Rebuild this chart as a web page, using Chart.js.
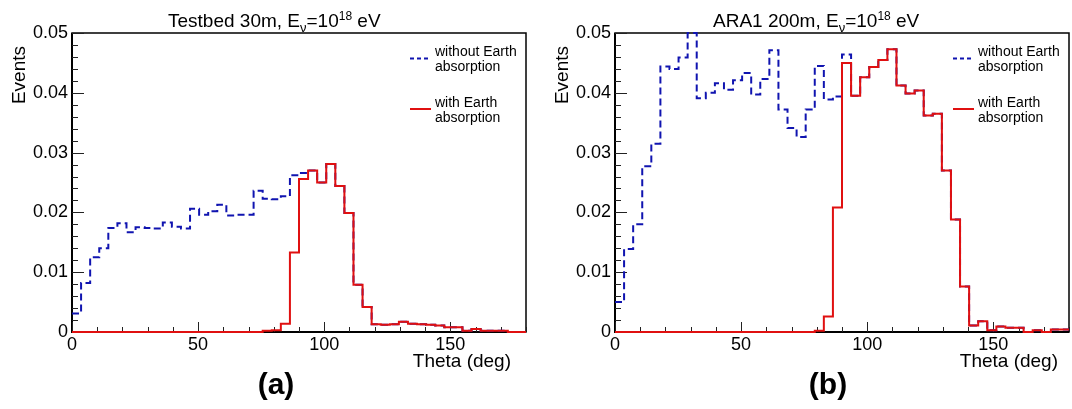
<!DOCTYPE html>
<html>
<head>
<meta charset="utf-8">
<script src="https://cdn.jsdelivr.net/npm/chart.js@4.4.1/dist/chart.umd.min.js"></script>
<style>
  html, body { margin: 0; padding: 0; background: #fff; }
  #wrap { position: relative; width: 1072px; height: 409px; }
  .panel { position: absolute; top: 0; width: 536px; height: 409px; }
</style>
</head>
<body>
<div id="wrap">
  <div class="panel" style="left:0"><canvas id="chartA" width="536" height="409"></canvas></div>
  <div class="panel" style="left:536px"><canvas id="chartB" width="536" height="409"></canvas></div>
</div>
<script>
// histogram: 50 bins of 3.6 deg over 0..180
const binWidth = 3.6;
const nBins = 50;

// (a) Testbed 30m
const testbedNoAbs = [
  0.0031, 0.0082, 0.0125, 0.0140, 0.0174, 0.0182, 0.0167, 0.0175, 0.0174, 0.0173,
  0.0183, 0.0176, 0.0173, 0.0206, 0.0196, 0.0202, 0.0213, 0.0195, 0.0196, 0.0196,
  0.0236, 0.0223, 0.0222, 0.0227, 0.0262, 0.0266, 0.0270, 0.0250, 0.0281, 0.0244,
  0.0199, 0.0079, 0.0042, 0.0013, 0.0012, 0.0013, 0.0017, 0.0014, 0.0013, 0.0012,
  0.0011, 0.0008, 0.0008, 0.0002, 0.0005, 0.0002, 0.0002, 0.0002, 0.0000, 0.0000
];
const testbedAbs = [
  0.0000, 0.0000, 0.0000, 0.0000, 0.0000, 0.0000, 0.0000, 0.0000, 0.0000, 0.0000,
  0.0000, 0.0000, 0.0000, 0.0000, 0.0000, 0.0000, 0.0000, 0.0000, 0.0000, 0.0000,
  0.0000, 0.0002, 0.0003, 0.0014, 0.0133, 0.0256, 0.0270, 0.0250, 0.0281, 0.0244,
  0.0199, 0.0079, 0.0042, 0.0013, 0.0012, 0.0013, 0.0017, 0.0014, 0.0013, 0.0012,
  0.0011, 0.0008, 0.0008, 0.0002, 0.0005, 0.0002, 0.0002, 0.0002, 0.0000, 0.0000
];

// (b) ARA1 200m
const ara1NoAbs = [
  0.0050, 0.0139, 0.0180, 0.0277, 0.0315, 0.0444, 0.0440, 0.0459, 0.0500, 0.0391,
  0.0400, 0.0416, 0.0405, 0.0421, 0.0433, 0.0397, 0.0423, 0.0471, 0.0372, 0.0341,
  0.0326, 0.0372, 0.0445, 0.0389, 0.0394, 0.0464, 0.0395, 0.0426, 0.0443, 0.0455,
  0.0473, 0.0412, 0.0399, 0.0404, 0.0362, 0.0365, 0.0270, 0.0188, 0.0076, 0.0011,
  0.0018, 0.0003, 0.0009, 0.0007, 0.0007, 0.0000, 0.0003, 0.0000, 0.0004, 0.0004
];
const ara1Abs = [
  0.0000, 0.0000, 0.0000, 0.0000, 0.0000, 0.0000, 0.0000, 0.0000, 0.0000, 0.0000,
  0.0000, 0.0000, 0.0000, 0.0000, 0.0000, 0.0000, 0.0000, 0.0000, 0.0000, 0.0000,
  0.0000, 0.0000, 0.0002, 0.0026, 0.0208, 0.0450, 0.0395, 0.0426, 0.0443, 0.0455,
  0.0473, 0.0412, 0.0399, 0.0404, 0.0362, 0.0365, 0.0270, 0.0188, 0.0076, 0.0011,
  0.0018, 0.0003, 0.0009, 0.0007, 0.0007, 0.0000, 0.0003, 0.0000, 0.0004, 0.0004
];

const xTicks = [0, 50, 100, 150];
const yTicks = [0, 0.01, 0.02, 0.03, 0.04, 0.05];
const legendNoAbs = ['without Earth', 'absorption'];
const legendAbs = ['with Earth', 'absorption'];
const titleA = ['Testbed 30m, E', 'ν', '=10', '18', ' eV'];
const titleB = ['ARA1 200m, E', 'ν', '=10', '18', ' eV'];

const FONT = '"Liberation Sans", Arial, Helvetica, sans-serif';
const BLUE = '#1014b0';
const RED = '#e01010';

// lower bin edges plus the last upper edge; stepped 'before' holds each bin value across the bin
function histPoints(values) {
  const pts = values.map((v, i) => ({ x: i * binWidth, y: v }));
  pts.push({ x: nBins * binWidth, y: values[values.length - 1] });
  return pts;
}

const rootStyle = {
  id: 'rootStyle',
  beforeDatasetsDraw(chart) {
    const { ctx, chartArea: a, scales: { x, y } } = chart;
    ctx.save();
    ctx.strokeStyle = '#000';
    ctx.lineWidth = 1.5;
    ctx.strokeRect(a.left, a.top, a.right - a.left, a.bottom - a.top);
    ctx.lineWidth = 2;
    ctx.beginPath();
    ctx.moveTo(a.left, a.top); ctx.lineTo(a.left, a.bottom); ctx.lineTo(a.right, a.bottom);
    ctx.stroke();
    // inward ticks, ROOT style
    ctx.lineWidth = 1;
    ctx.strokeStyle = '#222';
    ctx.beginPath();
    for (let v = 0; v <= 180; v += 10) {
      const px = Math.round(x.getPixelForValue(v)) + 0.5;
      const len = v % 50 === 0 ? 10 : 5;
      ctx.moveTo(px, a.bottom); ctx.lineTo(px, a.bottom - len);
    }
    for (let i = 0; i <= 25; i++) {
      const py = Math.round(y.getPixelForValue(i * 0.002)) + 0.5;
      const len = i % 5 === 0 ? 12 : 6;
      ctx.moveTo(a.left, py); ctx.lineTo(a.left + len, py);
    }
    ctx.stroke();
    ctx.restore();
  },
  afterDraw(chart, args, o) {
    const { ctx } = chart;
    ctx.save();
    ctx.fillStyle = '#000';
    ctx.textBaseline = 'alphabetic';

    // title with subscript nu and superscript 18
    let tx = o.titleX;
    const sizes = [19, 13, 19, 12, 19];
    const dys = [0, 5, 0, -7, 0];
    o.title.forEach((t, i) => {
      ctx.font = sizes[i] + 'px ' + FONT;
      ctx.textAlign = 'left';
      ctx.fillText(t, tx, 27 + dys[i]);
      tx += ctx.measureText(t).width;
    });

    // axis titles
    ctx.font = '19px ' + FONT;
    ctx.save();
    ctx.translate(o.yTitleX, 46);
    ctx.rotate(-Math.PI / 2);
    ctx.textAlign = 'right';
    ctx.fillText('Events', 0, 0);
    ctx.restore();
    ctx.textAlign = 'right';
    ctx.fillText('Theta (deg)', o.xTitleRight, 367);

    // legend
    const lx = o.legendX;
    ctx.lineWidth = 2;
    ctx.strokeStyle = BLUE;
    ctx.setLineDash([4, 3]);
    ctx.beginPath(); ctx.moveTo(lx, 58.5); ctx.lineTo(lx + 21, 58.5); ctx.stroke();
    ctx.setLineDash([]);
    ctx.strokeStyle = RED;
    ctx.beginPath(); ctx.moveTo(lx, 109); ctx.lineTo(lx + 21, 109); ctx.stroke();
    ctx.font = '14px ' + FONT;
    ctx.textAlign = 'left';
    ctx.fillText(legendNoAbs[0], lx + 25, 55.7);
    ctx.fillText(legendNoAbs[1], lx + 25, 71);
    ctx.fillText(legendAbs[0], lx + 25, 106.7);
    ctx.fillText(legendAbs[1], lx + 25, 122.3);

    // panel label
    ctx.font = 'bold 30px ' + FONT;
    ctx.textAlign = 'center';
    ctx.fillText(o.label, o.labelX, 394);
    ctx.restore();
  }
};

function makeChart(canvasId, noAbs, withAbs, yAxisWidth, rightPad, extra) {
  return new Chart(document.getElementById(canvasId).getContext('2d'), {
    type: 'line',
    data: {
      datasets: [
        {
          label: 'with Earth absorption',
          data: histPoints(withAbs),
          borderColor: RED,
          borderWidth: 2,
          stepped: 'before',
          pointRadius: 0,
          fill: false,
          clip: false,
          order: 0
        },
        {
          label: 'without Earth absorption',
          data: histPoints(noAbs),
          borderColor: BLUE,
          borderWidth: 2,
          borderDash: [7, 4],
          stepped: 'before',
          pointRadius: 0,
          fill: false,
          clip: false,
          order: 1
        }
      ]
    },
    options: {
      responsive: false,
      animation: false,
      layout: { padding: { top: 33, right: rightPad, left: 0, bottom: 0 } },
      plugins: {
        legend: { display: false },
        tooltip: { enabled: false },
        rootStyle: extra
      },
      scales: {
        x: {
          type: 'linear',
          min: 0,
          max: 180,
          afterFit: (s) => { s.height = 77; },
          afterBuildTicks: (s) => { s.ticks = xTicks.map(v => ({ value: v })); },
          grid: { display: false, drawTicks: false },
          border: { display: false },
          ticks: {
            color: '#000',
            font: { family: FONT, size: 18 },
            padding: 2,
            maxRotation: 0,
            callback: (v) => String(v)
          }
        },
        y: {
          type: 'linear',
          min: 0,
          max: 0.05,
          afterFit: (s) => { s.width = yAxisWidth; },
          afterBuildTicks: (s) => { s.ticks = yTicks.map(v => ({ value: v })); },
          grid: { display: false, drawTicks: false },
          border: { display: false },
          ticks: {
            color: '#000',
            font: { family: FONT, size: 18 },
            padding: 4,
            callback: (v) => v === 0 ? '0' : v.toFixed(2)
          }
        }
      }
    },
    plugins: [rootStyle]
  });
}

makeChart('chartA', testbedNoAbs, testbedAbs, 72, 10, {
  title: titleA, titleX: 168, yTitleX: 25, xTitleRight: 511, legendX: 410, label: '(a)', labelX: 276
});
makeChart('chartB', ara1NoAbs, ara1Abs, 79, 3, {
  title: titleB, titleX: 177, yTitleX: 32, xTitleRight: 522, legendX: 417, label: '(b)', labelX: 292
});
</script>
</body>
</html>
